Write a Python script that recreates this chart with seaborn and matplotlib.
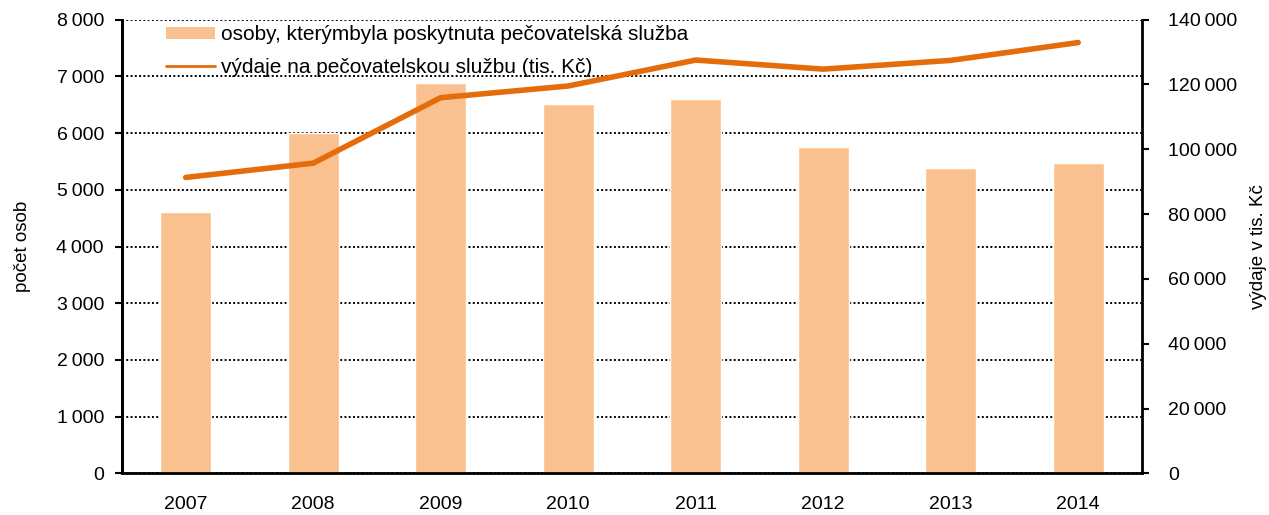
import numpy as np
import pandas as pd
import matplotlib
matplotlib.use("Agg")
import matplotlib.pyplot as plt
from matplotlib.ticker import FuncFormatter, FixedLocator, MultipleLocator
from matplotlib.patches import Patch
from matplotlib.lines import Line2D
import seaborn as sns

years = ["2007", "2008", "2009", "2010", "2011", "2012", "2013", "2014"]
persons = [4605, 6000, 6886, 6511, 6604, 5759, 5383, 5480]
expenses = [91300, 95700, 115900, 119500, 127500, 124700, 127400, 132900]

bar_label = "osoby, kterýmbyla poskytnuta pečovatelská služba"
line_label = "výdaje na pečovatelskou službu (tis. Kč)"

sns.set_theme(style="white")
plt.rcParams["font.family"] = ["Liberation Sans", "DejaVu Sans"]
plt.rcParams["font.size"] = 14
plt.rcParams["text.color"] = "black"
plt.rcParams["axes.labelcolor"] = "black"
plt.rcParams["xtick.color"] = "black"
plt.rcParams["ytick.color"] = "black"

BAR_COLOR = "#F9C18F"
LINE_COLOR = "#E46C0A"

df = pd.DataFrame({"year": years, "persons": persons, "expenses": expenses})

fig = plt.figure(figsize=(12.69, 5.15), dpi=100)
ax = fig.add_axes([0.0961, 0.0806, 0.8038, 0.8815])

sns.barplot(data=df, x="year", y="persons", order=years, color=BAR_COLOR,
            width=0.4, saturation=1, ax=ax, zorder=2)

ax2 = ax.twinx()
pos = np.arange(len(years))
sns.lineplot(x=pos, y=df["expenses"].to_numpy(), color=LINE_COLOR, linewidth=4,
             solid_capstyle="round", ax=ax2, zorder=3)

def thousands(v, _):
    return f"{int(round(v)):,}".replace(",", "\u2009")

ax.set_xlim(-0.5, len(years) - 0.5)
ax.set_ylim(0, 8000)
ax.yaxis.set_major_locator(MultipleLocator(1000))
ax.yaxis.set_major_formatter(FuncFormatter(thousands))
ax2.set_ylim(0, 140000)
ax2.yaxis.set_major_locator(MultipleLocator(20000))
ax2.yaxis.set_major_formatter(FuncFormatter(thousands))

ax.grid(axis="y", color="black", linestyle=(0, (1, 1.2)), linewidth=1.4, zorder=0)
ax.set_axisbelow(True)
ax.grid(axis="x", visible=False)
ax2.grid(False)

ax.set_xlabel("")
ax.set_ylabel("počet osob", fontsize=13.5, labelpad=18)
ax2.set_ylabel("výdaje v tis. Kč", fontsize=13.5, labelpad=9)

ax.xaxis.set_minor_locator(FixedLocator(np.arange(-0.5, len(years), 1.0)))
ax.tick_params(axis="x", which="major", length=0, pad=16, labelsize=14)
ax.tick_params(axis="x", which="minor", length=6, width=1.5, direction="out", color="black")
ax.tick_params(axis="y", length=5, width=1.5, direction="out", color="black",
               labelsize=14, pad=8)
ax2.tick_params(axis="y", length=5, width=1.5, direction="out", color="black",
                labelsize=14, pad=14)

for a in (ax, ax2):
    a.spines["top"].set_visible(False)
    for side in ("left", "right", "bottom"):
        a.spines[side].set_color("black")
        a.spines[side].set_linewidth(2)
ax.spines["right"].set_visible(False)
ax2.spines["bottom"].set_visible(False)

handles = [Patch(facecolor=BAR_COLOR, edgecolor="none"),
           Line2D([0], [0], color=LINE_COLOR, linewidth=2)]
leg = ax2.legend(handles, [bar_label, line_label], loc="upper left",
                 bbox_to_anchor=(0.035, 1.006), frameon=False, fontsize=15,
                 handlelength=2.35, handleheight=0.5, handletextpad=0.3,
                 labelspacing=0.65, borderaxespad=0)

fig.savefig("out.png", dpi=100)
